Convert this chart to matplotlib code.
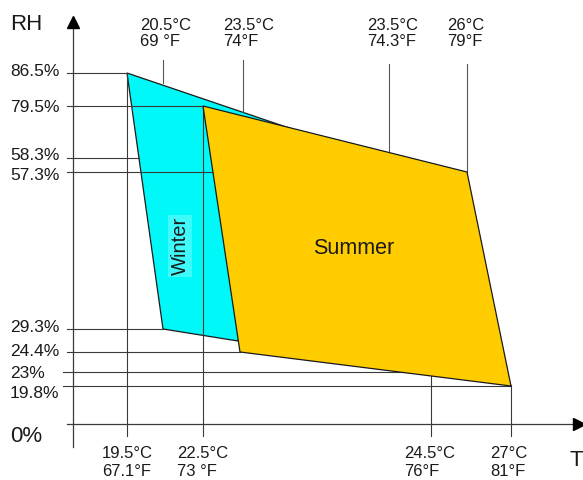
import matplotlib.pyplot as plt
from matplotlib.patches import Polygon

plt.rcParams["font.family"] = ["Liberation Sans", "DejaVu Sans"]

# ------------------------
# Schematic levels (positions on the sketch, x right / y down)
# ------------------------
rh_labels = ["86.5%", "79.5%", "58.3%", "57.3%", "29.3%", "24.4%", "23%", "19.8%"]
rh_pos = [73, 106, 158, 172, 329, 352, 372, 386]
rh_line_end = [127, 203, 139, 467, 163, 240, 431, 511]
rh_text_pos = [72, 107, 156, 176, 327, 352, 373, 393]

bot_c = ["19.5°C", "22.5°C", "24.5°C", "27°C"]
bot_f = ["67.1°F", "73 °F", "76°F", "81°F"]
bot_pos = [127, 203, 431, 511]
bot_line_top = [73, 106, 375, 385]
bot_text_x = [102, 177, 404, 490]

top_c = ["20.5°C", "23.5°C", "23.5°C", "26°C"]
top_f = ["69 °F", "74°F", "74.3°F", "79°F"]
top_pos = [163, 243, 389, 467]
top_line_bot = [83, 112, 152, 172]
top_text_x = [140, 223, 367, 447]

AXIS_X = 73
AXIS_Y = 424

# polygons built from the levels above
winter = [
    (bot_pos[0], rh_pos[0]),    # 19.5C / 86.5%
    (top_pos[0], rh_pos[4]),    # 20.5C / 29.3%
    (238, 341),
    (295, 130),
]
summer = [
    (bot_pos[1], rh_pos[1]),    # 22.5C / 79.5%
    (top_pos[3], rh_pos[3]),    # 26C / 57.3%
    (bot_pos[3], rh_pos[7]),    # 27C / 19.8%
    (rh_line_end[5], rh_pos[5]),  # 24.4%
]

LINE = "#3a3a3a"
TXT = "#1a1a1a"
fig = plt.figure(figsize=(5.83, 4.8), dpi=100)
ax = fig.add_axes([0, 0, 1, 1])
ax.set_xlim(0, 583)
ax.set_ylim(480, 0)
ax.axis("off")

ax.add_patch(Polygon(winter, closed=True, facecolor="#00f8f8",
                     edgecolor="#1a1a1a", lw=0.9, zorder=1))
ax.add_patch(Polygon(summer, closed=True, facecolor="#ffcc00",
                     edgecolor="#1a1a1a", lw=0.9, zorder=3))

# horizontal RH lines
for lab, y, xe, ty in zip(rh_labels, rh_pos, rh_line_end, rh_text_pos):
    x0 = 63 if lab in ("23%", "19.8%") else 67
    ax.plot([x0, xe], [y, y], color=LINE, lw=0.8, zorder=2)
    ax.text(10, ty, lab, fontsize=12.5, ha="left", va="center", color=TXT)

# bottom temperature lines
for c, f, x, yt, tx in zip(bot_c, bot_f, bot_pos, bot_line_top, bot_text_x):
    ax.plot([x, x], [yt, 436], color=LINE, lw=0.8, zorder=2)
    ax.text(tx, 453, c, fontsize=12, ha="left", va="center", color=TXT)
    ax.text(tx, 472, f, fontsize=12, ha="left", va="center", color=TXT)

# top temperature ticks
for c, f, x, yb, tx in zip(top_c, top_f, top_pos, top_line_bot, top_text_x):
    y0 = 60 if x < 300 else 64
    ax.plot([x, x], [y0, yb], color="#555555", lw=0.8, zorder=2)
    ax.text(tx, 26, c, fontsize=12, ha="left", va="center", color=TXT)
    ax.text(tx, 42, f, fontsize=12, ha="left", va="center", color=TXT)

# axes
ax.plot([AXIS_X, AXIS_X], [26, 447], color=LINE, lw=0.9, zorder=4)
ax.plot([67, 576], [AXIS_Y, AXIS_Y], color=LINE, lw=0.9, zorder=4)
ax.plot(AXIS_X, 22, marker="^", markersize=8, color="black", zorder=5)
ax.plot(579, AXIS_Y, marker=">", markersize=8, color="black", zorder=5)

ax.text(10, 25, "RH", fontsize=16, ha="left", va="center", color=TXT)
ax.text(10, 436, "0%", fontsize=16, ha="left", va="center", color=TXT)
ax.text(570, 460, "T", fontsize=16, ha="left", va="center", color=TXT)

ax.text(354, 249, "Summer", fontsize=15.5, ha="center", va="center",
        color=TXT, zorder=6)
ax.text(180, 246, "Winter", fontsize=14.5, ha="center", va="center",
        rotation=90, color=TXT, zorder=6,
        bbox=dict(boxstyle="square,pad=0.1", facecolor="#3ffafa", edgecolor="none"))

fig.savefig("out.png", dpi=100)
